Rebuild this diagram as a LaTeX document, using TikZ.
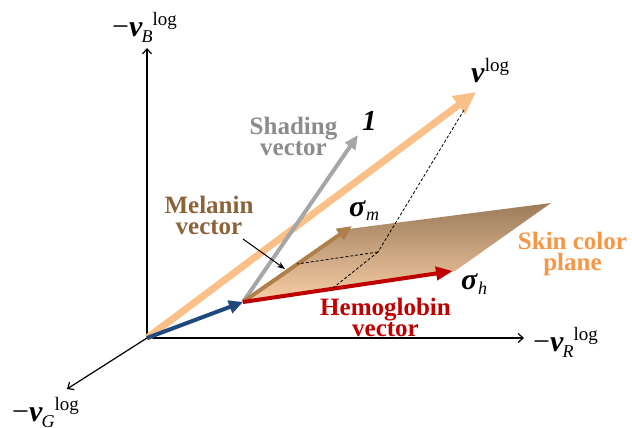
\documentclass[tikz,border=0pt]{standalone}
\usepackage{fontspec}
\setmainfont{Liberation Serif}
\usetikzlibrary{arrows.meta}
\definecolor{shadegray}{HTML}{A6A6A6}
\definecolor{shadetext}{HTML}{8C8C8C}
\definecolor{vorange}{HTML}{FAC088}
\definecolor{navyb}{HTML}{1F497D}
\definecolor{hemored}{HTML}{C00000}
\definecolor{melarrow}{HTML}{B0804A}
\definecolor{meltext}{HTML}{8C6239}
\definecolor{planetop}{HTML}{9C7B5B}
\definecolor{planebot}{HTML}{F8CFA6}
\definecolor{skintext}{HTML}{F79646}
\newcommand{\axlab}[1]{{\fontsize{30}{30}\selectfont −\textbf{\textit{v}}}\kern-1pt\raisebox{-6pt}{\fontsize{18}{18}\selectfont\textit{#1}}\raisebox{11pt}{\fontsize{19}{19}\selectfont log}}
\tikzset{
  axisline/.style={line width=1.2pt, black, -{Straight Barb[length=5pt,width=9pt]}},
  bigarrow/.style={line width=4pt, -{Triangle[length=15pt,width=13pt]}},
  dashline/.style={line width=0.8pt, black, dash pattern=on 3pt off 2pt},
  boldlab/.style={font=\fontsize{25}{20.5}\selectfont\bfseries, align=center, anchor=base, inner sep=0pt},
  mathlab/.style={anchor=base west, inner sep=0pt},
}
\begin{document}
\begin{tikzpicture}[x=1pt,y=-1pt]
\useasboundingbox (0,0) rectangle (632,428);
% key points
\coordinate (O) at (147,338);
\coordinate (Btip) at (147,48);
\coordinate (Rtip) at (524,338);
\coordinate (Gtip) at (67,389);
\coordinate (P) at (243,302);
\coordinate (A) at (348,229);
\coordinate (B) at (551,203);
\coordinate (C) at (455,271);
\coordinate (Mtip) at (352,226);
\coordinate (Htip) at (453,271);
\coordinate (Stip) at (358,135);
\coordinate (Vtip) at (476,92);
\coordinate (Vfoot) at (464,110);
\coordinate (Q) at (378,252);
\coordinate (Qm) at (297,264);
\coordinate (Qh) at (333,288);
\coordinate (ptrS) at (243,239);
\coordinate (ptrE) at (285,269);
% axes
\draw[axisline] (O) -- (Btip);
\draw[axisline] (O) -- (Rtip);
\draw[axisline] (O) -- (Gtip);
% skin color plane
\shade[top color=planetop, bottom color=planebot] (P) -- (A) -- (B) -- (C) -- cycle;
% v log
\draw[line width=7pt, vorange, -{Triangle[length=22pt,width=21pt]}] (O) -- (Vtip);
% blue
\draw[bigarrow, navyb, -{Triangle[length=14pt,width=13pt]}] (O) -- (P);
% shading
\draw[bigarrow, shadegray, -{Triangle[length=14pt,width=12pt]}] (P) -- (Stip);
% melanin
\draw[bigarrow, melarrow] (P) -- (Mtip);
% hemoglobin
\draw[bigarrow, hemored, -{Triangle[length=17pt,width=13pt]}] (P) -- (Htip);
% dashed projections
\draw[dashline] (Vfoot) -- (Q);
\draw[dashline] (Q) -- (Qm);
\draw[dashline] (Q) -- (Qh);
% pointer
\draw[line width=1pt, -{Stealth[length=8pt,width=6pt]}] (ptrS) -- (ptrE);
% labels
\node[mathlab] (labB) at (112,37) {\axlab{B}};
\node[mathlab] (labR) at (533,351) {\axlab{R}};
\node[mathlab] (labG) at (12,421) {\axlab{G}};
\node[mathlab] (labV) at (471,82) {{\fontsize{30}{30}\selectfont\textbf{\textit{v}}}\raisebox{10pt}{\fontsize{19}{19}\selectfont log}};
\node[mathlab] (labOne) at (362,130) {\fontsize{29}{29}\selectfont\textbf{\textit{1}}};
\node[mathlab] (labSm) at (349,216) {{\fontsize{30}{30}\selectfont\textbf{\textit{σ}}}\raisebox{-4pt}{\fontsize{18}{18}\selectfont\textit{m}}};
\node[mathlab] (labSh) at (461,289) {{\fontsize{30}{30}\selectfont\textbf{\textit{σ}}}\raisebox{-5pt}{\fontsize{18}{18}\selectfont\textit{h}}};
\node[boldlab, text=shadetext] (labShading) at (293.5,155) {Shading\\vector};
\node[boldlab, text=meltext] (labMel) at (209,234) {Melanin\\vector};
\node[boldlab, text=hemored] (labHem) at (385.5,336) {Hemoglobin\\vector};
\node[boldlab, text=skintext] (labSkin) at (572.5,270) {Skin color\\plane};
\end{tikzpicture}
\end{document}
